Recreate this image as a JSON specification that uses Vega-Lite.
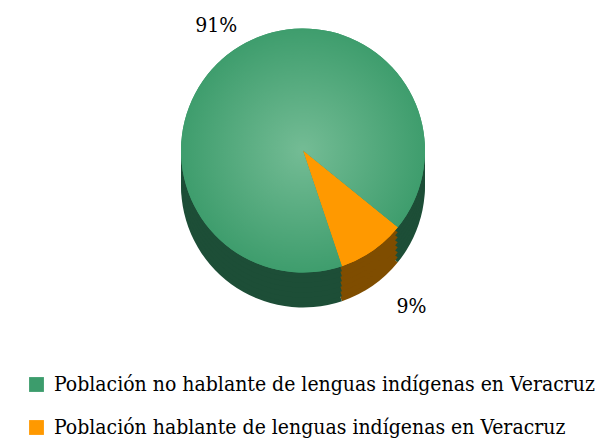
{
  "$schema": "https://vega.github.io/schema/vega-lite/v6.json",
  "width": 606,
  "height": 441,
  "padding": 0,
  "autosize": {"type": "none"},
  "background": "white",
  "config": {"view": {"stroke": null}, "font": "DejaVu Serif Condensed"},
  "data": {"values": [
    {"cat": "Población hablante de lenguas indígenas en Veracruz", "value": 9, "ord": 1, "label": "9%"},
    {"cat": "Población no hablante de lenguas indígenas en Veracruz", "value": 91, "ord": 2, "label": "91%"}
  ]},
  "encoding": {
    "theta": {"field": "value", "type": "quantitative", "stack": true, "scale": {"range": [2.2515, 8.5347]}},
    "order": {"field": "ord", "type": "quantitative"}
  },
  "layer": [
    {"mark": {"type": "arc", "radius": 122, "yOffset": -35}, "encoding": {"fill": {"condition": {"test": "datum.ord == 1", "value": "#7f4d00"}, "value": "#1d4e37"}}},
    {"mark": {"type": "arc", "radius": 122, "yOffset": -40}, "encoding": {"fill": {"condition": {"test": "datum.ord == 1", "value": "#7f4d00"}, "value": "#1d4e37"}}},
    {"mark": {"type": "arc", "radius": 122, "yOffset": -45}, "encoding": {"fill": {"condition": {"test": "datum.ord == 1", "value": "#7f4d00"}, "value": "#1d4e37"}}},
    {"mark": {"type": "arc", "radius": 122, "yOffset": -50}, "encoding": {"fill": {"condition": {"test": "datum.ord == 1", "value": "#7f4d00"}, "value": "#1d4e37"}}},
    {"mark": {"type": "arc", "radius": 122, "yOffset": -55}, "encoding": {"fill": {"condition": {"test": "datum.ord == 1", "value": "#7f4d00"}, "value": "#1d4e37"}}},
    {"mark": {"type": "arc", "radius": 122, "yOffset": -60}, "encoding": {"fill": {"condition": {"test": "datum.ord == 1", "value": "#7f4d00"}, "value": "#1d4e37"}}},
    {"mark": {"type": "arc", "radius": 122, "yOffset": -65}, "encoding": {"fill": {"condition": {"test": "datum.ord == 1", "value": "#7f4d00"}, "value": "#1d4e37"}}},
    {
      "mark": {"type": "arc", "radius": 122, "yOffset": -70},
      "encoding": {
        "color": {
          "field": "cat", "type": "nominal",
          "scale": {"domain": ["Población no hablante de lenguas indígenas en Veracruz", "Población hablante de lenguas indígenas en Veracruz"], "range": ["#3c9c6c", "#ff9900"]},
          "legend": {
            "orient": "none", "legendX": 26, "legendY": 374, "title": null,
            "symbolType": "square", "symbolSize": 220, "symbolStrokeWidth": 0,
            "labelFont": "DejaVu Serif Condensed", "labelFontSize": 21, "labelColor": "#000000",
            "rowPadding": 21, "labelOffset": 7, "labelLimit": 600
          }
        }
      }
    },
    {
      "mark": {"type": "arc", "radius": 122, "yOffset": -70},
      "encoding": {
        "fill": {
          "condition": {"test": "datum.ord == 1", "value": "#ff9900"},
          "value": {"gradient": "radial", "x1": 0.5, "y1": 0.5, "x2": 0.5, "y2": 0.5, "r1": 0, "r2": 0.55, "stops": [{"offset": 0, "color": "#74bc95"}, {"offset": 1, "color": "#399a69"}]}
        }
      }
    },
    {
      "mark": {"type": "text", "yOffset": -70, "font": "DejaVu Serif Condensed", "fontSize": 21, "color": "#000000"},
      "encoding": {
        "text": {"field": "label"},
        "radius": {"field": "value", "type": "quantitative", "scale": {"type": "linear", "domain": [9, 91], "range": [190, 152], "zero": false}}
      }
    }
  ]
}
